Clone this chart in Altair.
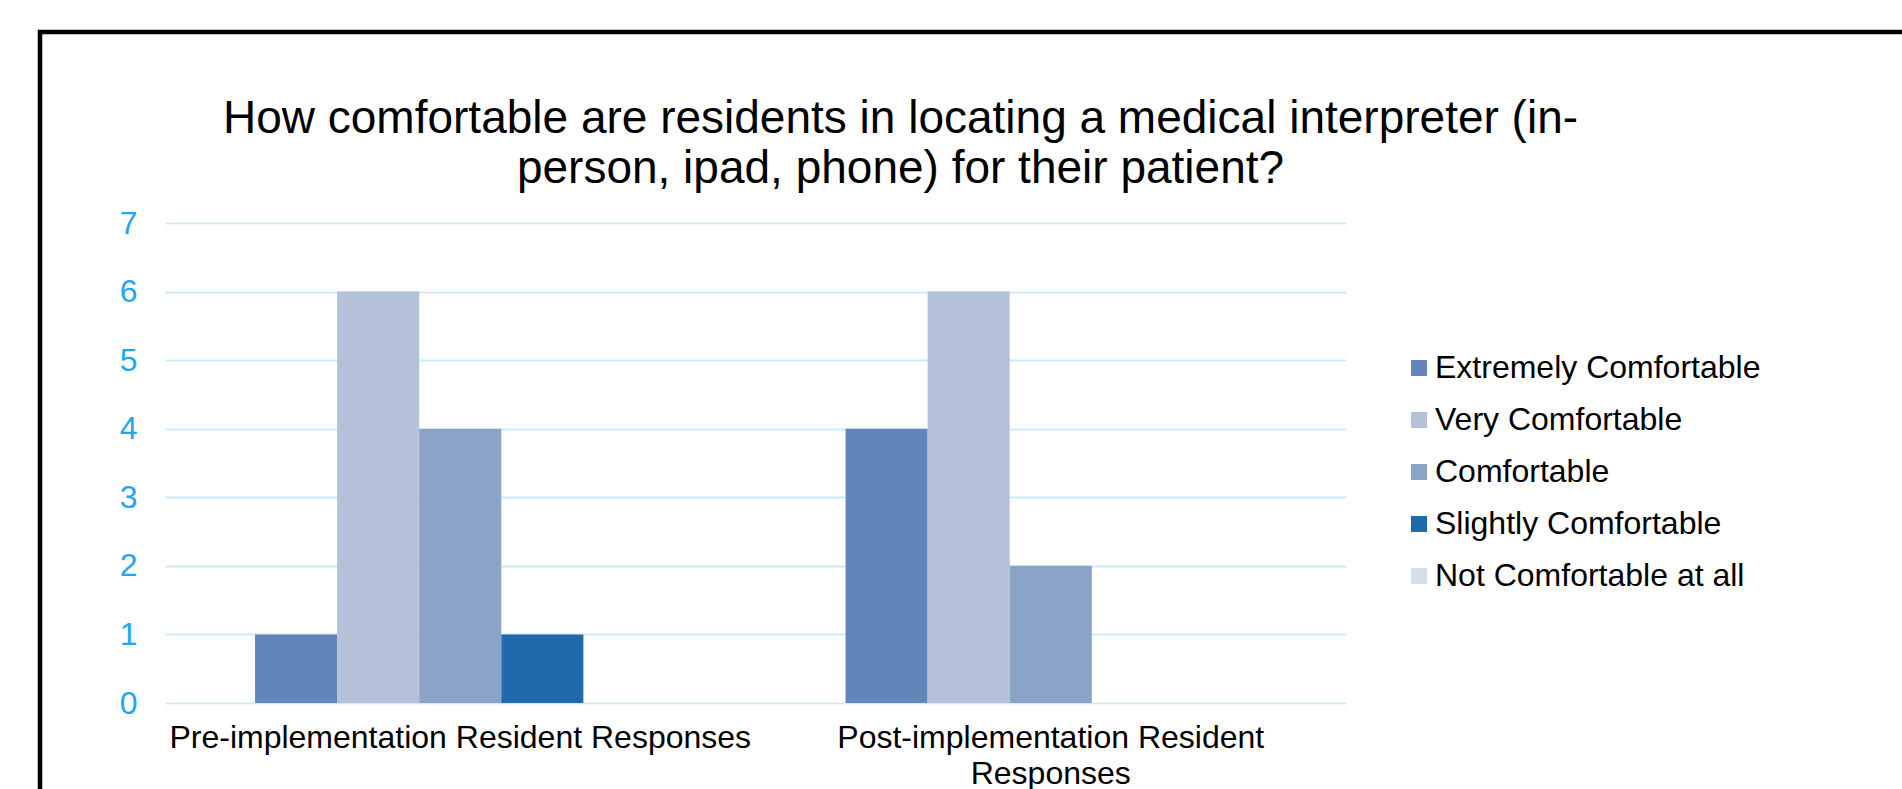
import altair as alt
import pandas as pd

groups = ["Pre-implementation Resident Responses", "Post-implementation Resident Responses"]
levels = ["Extremely Comfortable", "Very Comfortable", "Comfortable",
          "Slightly Comfortable", "Not Comfortable at all"]
pre_values = [1, 6, 4, 1, 0]
post_values = [4, 6, 2, 0, 0]
colors = ["#6286b9", "#b4c1d9", "#8aa3c7", "#1f6aac", "#d6dee9"]
title_lines = ["How comfortable are residents in locating a medical interpreter (in-",
               "person, ipad, phone) for their patient?"]
y_ticks = [0, 1, 2, 3, 4, 5, 6, 7]

rows = []
for g, vals in zip(groups, [pre_values, post_values]):
    for lvl, v in zip(levels, vals):
        rows.append({"group": g, "level": lvl, "count": v})
df = pd.DataFrame(rows)

FONT = "Liberation Sans"

bars = alt.Chart(df).mark_bar().encode(
    x=alt.X("group:N", sort=groups, title=None,
            scale=alt.Scale(paddingInner=0.305, paddingOuter=0.1525),
            axis=alt.Axis(labelAngle=0, domain=False, ticks=False, tickSize=0, grid=False,
                          labelFont=FONT, labelFontSize=32, labelColor="#000000",
                          labelPadding=19, labelLineHeight=36, labelLimit=0,
                          labelExpr="datum.label == 'Post-implementation Resident Responses' ? ['Post-implementation Resident', 'Responses'] : datum.label")),
    xOffset=alt.XOffset("level:N", sort=levels,
                        scale=alt.Scale(paddingInner=0, paddingOuter=0)),
    y=alt.Y("count:Q", title=None,
            scale=alt.Scale(domain=[0, 7], nice=False),
            axis=alt.Axis(values=y_ticks, domain=False, ticks=False, tickSize=0,
                          grid=True, gridColor="#cdeafc", gridWidth=2,
                          labelFont=FONT, labelFontSize=32, labelColor="#22a6f2",
                          labelPadding=28)),
    color=alt.Color("level:N", sort=levels,
                    scale=alt.Scale(domain=levels, range=colors),
                    legend=alt.Legend(title=None, orient="none", legendX=1238, legendY=129,
                                      symbolType="square", symbolSize=256,
                                      symbolStrokeWidth=0, labelFont=FONT,
                                      labelFontSize=32, labelColor="#000000",
                                      labelOffset=0, rowPadding=20, padding=0,
                                      labelLimit=0)),
)

border = alt.Chart(alt.Data(values=[{"k": 1}])).mark_rect(
    fill=None, stroke="#000000", strokeWidth=4.5
).encode(
    x=alt.value(-125), x2=alt.value(1760),
    y=alt.value(-191), y2=alt.value(590),
)

chart = alt.layer(border, bars).properties(
    width=1181, height=480,
    autosize=alt.AutoSizeParams(type="none"),
    padding={"left": 165, "top": 223, "right": 556, "bottom": 86},
    background="#ffffff",
    title=alt.Title(text=title_lines, font=FONT, fontSize=46, fontWeight="normal",
                    color="#000000", anchor="middle", dx=145, dy=183, lineHeight=50, offset=20),
).configure_view(stroke=None)

chart.save("out.html", embed_options={"renderer": "svg", "actions": False})
